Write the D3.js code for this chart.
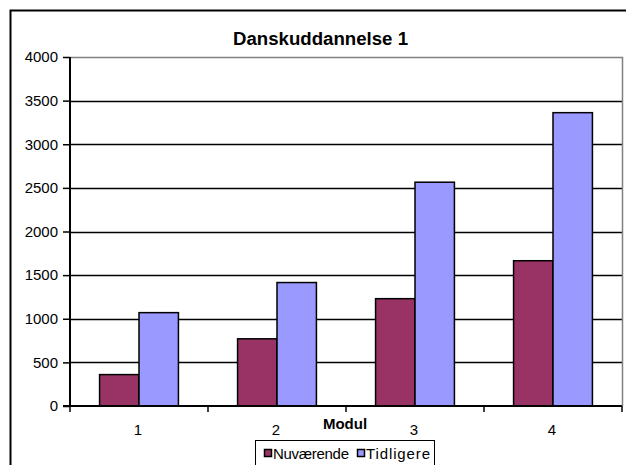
<!DOCTYPE html>
<html>
<head>
<meta charset="utf-8">
<script src="https://cdn.jsdelivr.net/npm/d3@7"></script>
<style>
  html, body { margin: 0; padding: 0; background: #fff; overflow: hidden; }
  svg { display: block; }
  text { font-family: "Liberation Sans", Arial, sans-serif; fill: #000; }
</style>
</head>
<body>
<svg id="chart" width="626" height="465"></svg>
<script>
const categories = ["1", "2", "3", "4"];
const seriesNames = ["Nuværende", "Tidligere"];
const nuvaerende = [360, 770, 1230, 1665];
const tidligere = [1070, 1415, 2565, 3362];
const yTicks = [0, 500, 1000, 1500, 2000, 2500, 3000, 3500, 4000];
const colors = ["#993366", "#9999FF"];

(function () {
const svg = d3.select("#chart");

// outer chart border (extends past the window on right/bottom)
svg.append("rect")
  .attr("x", 10.5).attr("y", 10.5).attr("width", 640).attr("height", 480)
  .attr("fill", "#fff").attr("stroke", "#000").attr("stroke-width", 2);

const pLeft = 70, pRight = 622, pTop = 57, pBottom = 406;
const y = d3.scaleLinear().domain([0, 4000]).range([pBottom, pTop]);
const x = d3.scaleBand().domain(categories).range([pLeft, pRight])
  .paddingInner(1.5 / 3.5).paddingOuter(0.75 / 3.5);
const xs = d3.scaleBand().domain(seriesNames).range([0, x.bandwidth()]);
const step = (pRight - pLeft) / categories.length;

// gridlines
svg.append("g").selectAll("line").data(yTicks.filter(d => d > 0 && d < 4000)).join("line")
  .attr("x1", pLeft).attr("x2", pRight)
  .attr("y1", d => Math.round(y(d)) + 0.5).attr("y2", d => Math.round(y(d)) + 0.5)
  .attr("stroke", "#000").attr("stroke-width", 1.3);

// plot area border top/right (gray)
svg.append("path")
  .attr("d", `M${pLeft},${pTop + 0.5}H${pRight + 0.5}V${pBottom}`)
  .attr("fill", "none").attr("stroke", "#808080").attr("stroke-width", 1.5);

// bars
const data = [];
categories.forEach((c, i) => {
  data.push({ c, s: seriesNames[0], v: nuvaerende[i], col: colors[0] });
  data.push({ c, s: seriesNames[1], v: tidligere[i], col: colors[1] });
});
svg.append("g").selectAll("rect").data(data).join("rect")
  .attr("x", d => x(d.c) + xs(d.s))
  .attr("y", d => y(d.v))
  .attr("width", xs.bandwidth())
  .attr("height", d => y(0) - y(d.v))
  .attr("fill", d => d.col)
  .attr("stroke", "#000").attr("stroke-width", 1.5);

// y axis
const yAxis = svg.append("g").attr("transform", `translate(${pLeft},0)`)
  .call(d3.axisLeft(y).tickValues(yTicks).tickSize(7).tickPadding(5).tickFormat(d3.format("d")));
yAxis.select(".domain").remove();
yAxis.selectAll(".tick line").attr("stroke", "#000").attr("stroke-width", 1.5);
yAxis.selectAll(".tick text").attr("font-size", 15).attr("font-family", "Liberation Sans, Arial, sans-serif");
svg.append("line").attr("x1", pLeft).attr("x2", pLeft).attr("y1", pTop).attr("y2", pBottom + 1)
  .attr("stroke", "#000").attr("stroke-width", 2);

// x axis
svg.append("line").attr("x1", pLeft - 7).attr("x2", pRight).attr("y1", pBottom).attr("y2", pBottom)
  .attr("stroke", "#000").attr("stroke-width", 2);
const boundaries = d3.range(categories.length + 1).map(i => pLeft + i * step);
svg.append("g").selectAll("line").data(boundaries).join("line")
  .attr("x1", d => d).attr("x2", d => d).attr("y1", pBottom).attr("y2", pBottom + 6)
  .attr("stroke", "#000").attr("stroke-width", 1.5);
svg.append("g").selectAll("text").data(categories).join("text")
  .attr("x", d => x(d) + x.bandwidth() / 2 - 1).attr("y", 435)
  .attr("text-anchor", "middle").attr("font-size", 15).text(d => d);

// titles
svg.append("text").attr("x", 320.5).attr("y", 45).attr("text-anchor", "middle")
  .attr("font-size", 18).attr("font-weight", "bold")
  .attr("textLength", 175).attr("lengthAdjust", "spacingAndGlyphs").text("Danskuddannelse 1");
svg.append("text").attr("x", 345).attr("y", 429).attr("text-anchor", "middle")
  .attr("font-size", 15).attr("font-weight", "bold").text("Modul");

// legend
const lg = svg.append("g");
lg.append("rect").attr("x", 255.5).attr("y", 440.5).attr("width", 179).attr("height", 40)
  .attr("fill", "#fff").attr("stroke", "#000").attr("stroke-width", 1);
const legendPos = [{ sx: 264, tx: 273, w: 76 }, { sx: 357, tx: 366, w: 64 }];
seriesNames.forEach((n, i) => {
  lg.append("rect").attr("x", legendPos[i].sx + 0.5).attr("y", 449.5).attr("width", 7).attr("height", 7)
    .attr("fill", colors[i]).attr("stroke", "#000").attr("stroke-width", 1.5);
  lg.append("text").attr("x", legendPos[i].tx).attr("y", 459).attr("font-size", 15)
    .attr("textLength", legendPos[i].w).attr("lengthAdjust", "spacing").text(n);
});
})();
</script>
</body>
</html>
